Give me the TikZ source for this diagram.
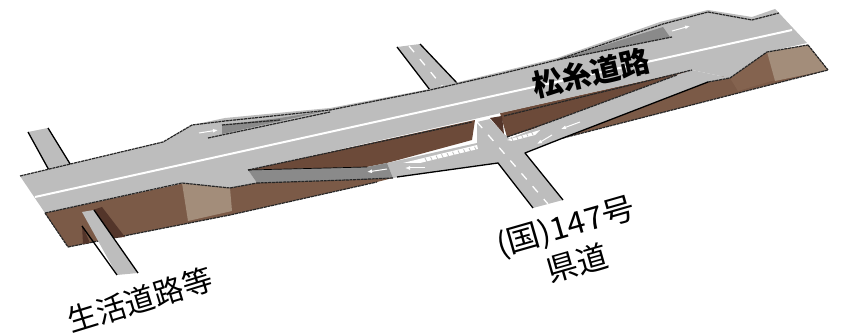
\documentclass[tikz,border=0pt]{standalone}
\usepackage{fontspec}
\usetikzlibrary{arrows.meta}
\setmainfont{Noto Sans CJK JP}
\begin{document}
\begin{tikzpicture}[x=1pt,y=-1pt,line join=round,
  road/.style={fill=roadgray},
  wedge/.style={fill=wedgegray},
  soil/.style={fill=soildark},
  edgeline/.style={draw=black!85,line width=1.2pt,dash pattern=on 3pt off .7pt},
  solidedge/.style={draw=black,line width=1.3pt},
  centre/.style={draw=white,line width=2pt},
  laneDash/.style={draw=white,line width=1.3pt,dash pattern=on 8pt off 9pt},
  hatch/.style={draw=white,line width=1.5pt},
  flow/.style={draw=white,line width=1pt,-{Latex[length=5pt,width=4pt]}},
  lab/.style={font=\fontsize{31}{31}\selectfont,text=black,inner sep=0pt},
  title/.style={font=\fontsize{30}{30}\selectfont\bfseries,text=black,inner sep=0pt}]
\definecolor{roadgray}{HTML}{BDBDBD}
\definecolor{wedgegray}{HTML}{8A8A8A}
\definecolor{soildark}{HTML}{7B5A47}
\definecolor{soildeep}{HTML}{6C4A39}
\definecolor{soilmid}{HTML}{84634F}
\definecolor{soillight}{HTML}{A38D7A}
\definecolor{soilshade}{HTML}{53352A}
\useasboundingbox (0,0) rectangle (843,336);
% soil body
\fill[soil] (45,213) -- (180,184) -- (393,178) -- (377,182) -- (230,215) -- (68,247) -- cycle;
\fill[soildeep] (248,170) -- (475,120) -- (472,140) -- (387,163) -- (367,167) -- cycle;
\fill[soildeep] (500,113) -- (692,70) -- (677,75) -- (550,124) -- (507,137) -- cycle;
\fill[soil] (563,138) -- (708,82) -- (767,52) -- (808,45) -- (828,70) -- cycle;
\fill[soilmid] (730,78) -- (767,52) -- (775,80) -- (738,91) -- cycle;
\fill[soillight] (767,52) -- (808,45) -- (828,70) -- (775,81) -- cycle;
\fill[soillight] (182,183) -- (230,188) -- (232,211) -- (188,221) -- cycle;
\draw[edgeline] (68,247) -- (230,215) -- (377,182);
\draw[edgeline] (563,138) -- (828,70);
\draw[edgeline] (45,213) -- (68,247);
\draw[edgeline] (808,45) -- (828,70);
% side roads at the top
\fill[road] (28,132) -- (48,128) -- (72,167) -- (50,172) -- cycle;
\draw[solidedge] (28,132) -- (50,172) (48,128) -- (72,167);
\fill[road] (397,47) -- (420,44) -- (457,83) -- (430,90) -- cycle;
\draw[solidedge] (397,47) -- (430,90) (420,44) -- (457,83);
\draw[laneDash] (409,46) -- (443,87);
% main road with its ramps
\fill[road] (20,176) -- (163,142) -- (192,125) -- (225,118) -- (330,108) -- (430,89)
  -- (500,72) -- (557,58) -- (660,22) -- (708,10) -- (752,17) -- (775,9) -- (779,13)
  -- (807,43) -- (767,52) -- (730,78) -- (692,70) -- (248,170) -- (257,183) -- (230,188)
  -- (182,183) -- (45,213) -- cycle;
\fill[road] (692,70) -- (730,78) -- (708,82) -- (563,138) -- (525,153) -- (507,140) -- (550,122) -- (677,75) -- cycle;
% crossing road and left ramp
\fill[road] (477,122) -- (490,119) -- (503,133) -- (525,153) -- (563,200) -- (533,208)
  -- (498,163) -- (393,178) -- (387,163) -- (477,143) -- cycle;
\fill[road] (503,133) -- (507,140) -- (540,130) -- (560,128) -- (525,153) -- cycle;
\fill[soilshade] (490,118) -- (502,116) -- (504,134) -- cycle;
\fill[white] (403,163) -- (477,145) -- (478,149) -- (420,163) -- cycle;
\foreach \i in {0,...,9}{\draw[hatch,draw=roadgray,line width=.8pt] ({425+5.5*\i},{158-1.25*\i}) -- +(2,4);}
\fill[white] (507,140) -- (540,130) -- (535,135) -- (512,141) -- cycle;
\foreach \i in {0,...,4}{\draw[hatch,draw=roadgray,line width=.8pt] ({511+5*\i},{137-1.5*\i}) -- +(2,4);}
% darker wedges
\fill[wedge] (248,170) -- (367,167) -- (387,163) -- (393,178) -- (347,180) -- (287,182) -- (257,183) -- cycle;
\fill[wedge] (222,125) -- (280,118) -- (330,110) -- (222,134) -- cycle;
\fill[wedge] (557,60) -- (663,27) -- (670,37) -- cycle;
% road edges
\draw[edgeline] (20,176) -- (163,142) -- (192,125) -- (225,121) -- (330,110) -- (430,90) -- (500,74) -- (557,60) -- (663,24) -- (708,12) -- (752,20) -- (779,13);
\draw[edgeline] (208,138) -- (330,112);
\draw[edgeline] (222,125) -- (280,120);
\draw[edgeline] (557,60) -- (672,37);
\draw[edgeline] (45,213) -- (182,183) -- (230,188) -- (257,183);
\draw[edgeline] (248,170) -- (472,122);
\draw[edgeline] (504,116) -- (692,70);
\draw[edgeline] (507,137) -- (550,122) -- (677,75);
\draw[edgeline] (708,82) -- (730,78) -- (767,52) -- (808,45);
\draw[edgeline] (257,183) -- (347,180) -- (393,178);
\draw[solidedge] (708,82) -- (563,138) -- (525,153) -- (563,200);
\draw[solidedge] (533,208) -- (498,163) -- (397,177);
\draw[solidedge,line width=.7pt] (248,170) -- (367,167);
% lines on the road
\draw[centre] (35,197) -- (792,30);
\draw[laneDash] (477,122) -- (548,204);
% direction arrows
\draw[flow] (199,133) -- (218,130);
\draw[flow] (672,31) -- (690,26);
\draw[flow] (387,169) -- (367,172);
\draw[flow] (425,168) -- (405,168);
\draw[flow] (580,122) -- (561,129);
\draw[flow] (552,135) -- (537,144);
% lower side road in its underpass
\fill[soilshade] (93,210) -- (102,207) -- (125,237) -- (113,238) -- cycle;
\fill[soilshade] (82,225) -- (83,244) -- (90,243) -- cycle;
\fill[road] (82,212) -- (94,210) -- (138,273) -- (117,275) -- cycle;
\draw[solidedge] (82,226) -- (117,275) (94,210) -- (138,273);
% labels
\node[title,rotate=13] (matsu) at (591,73) {松糸道路};
\node[lab,rotate=16,xscale=1.06] (kuni) at (566,228) {(国)147号};
\node[lab,rotate=16] (ken) at (577,263) {県道};
\node[lab,rotate=17,scale=.97] (seikatsu) at (140,300) {生活道路等};
\end{tikzpicture}
\end{document}
